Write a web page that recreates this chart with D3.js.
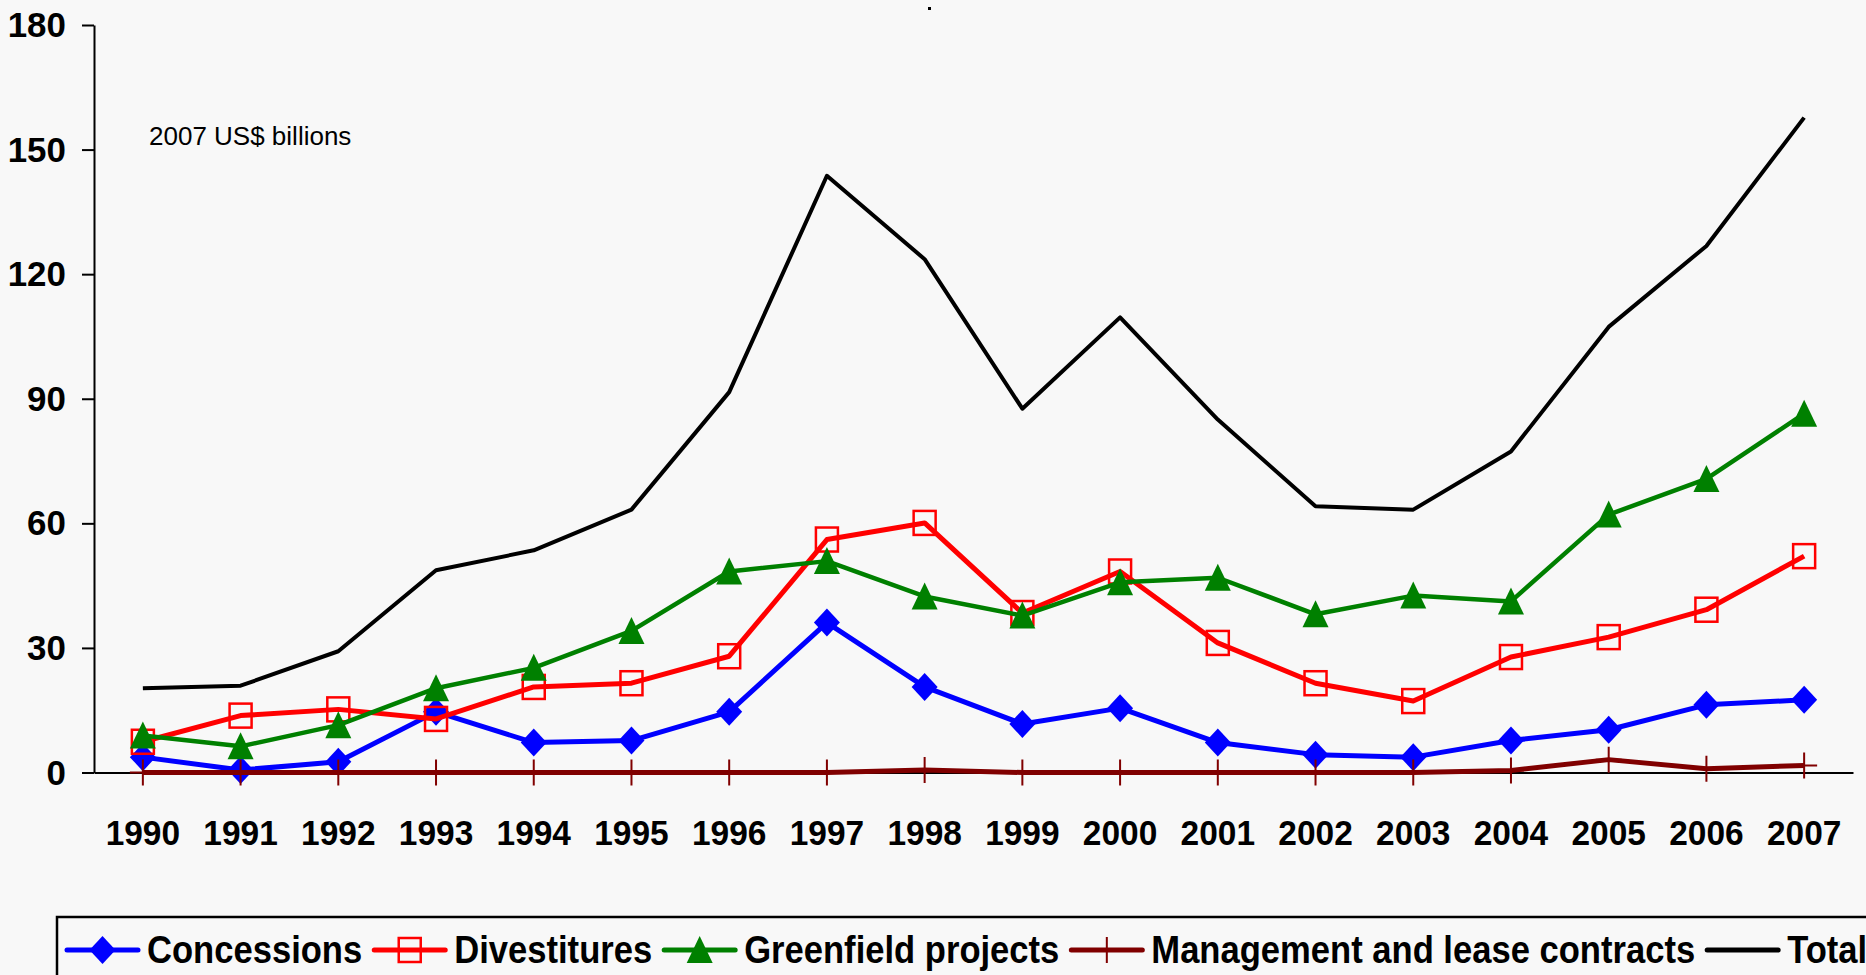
<!DOCTYPE html>
<html>
<head>
<meta charset="utf-8">
<script src="https://cdn.jsdelivr.net/npm/d3@7.9.0/dist/d3.min.js"></script>
<style>
  html, body { margin: 0; padding: 0; background: #f8f8f8; }
  svg { display: block; font-family: "Liberation Sans", Arial, sans-serif; }
</style>
</head>
<body>
<div id="chart"></div>
<script>
// ---- data (2007 US$ billions) ----
const years = ["1990","1991","1992","1993","1994","1995","1996","1997","1998","1999",
               "2000","2001","2002","2003","2004","2005","2006","2007"];
const concessions  = [3.7, 0.6, 2.6, 14.6, 7.2, 7.7, 14.6, 36.1, 20.6, 11.7, 15.5, 7.2, 4.3, 3.7, 7.7, 10.3, 16.3, 17.5];
const divestitures = [7.4, 13.7, 15.2, 12.9, 20.6, 21.5, 28.0, 56.1, 60.1, 38.4, 48.4, 31.2, 21.5, 17.2, 27.8, 32.6, 39.2, 52.1];
const greenfield   = [8.9, 6.3, 11.4, 20.3, 25.2, 34.1, 48.4, 50.9, 42.4, 37.8, 45.8, 46.9, 38.1, 42.6, 41.2, 62.1, 70.7, 86.4];
const management   = [0, 0, 0, 0, 0, 0, 0, 0, 0.6, 0, 0, 0, 0, 0, 0.5, 3.1, 0.9, 1.7];
const total        = [20.3, 20.9, 29.2, 48.7, 53.5, 63.3, 91.6, 143.7, 123.6, 87.6, 109.6, 85.0, 64.1, 63.3, 77.3, 107.3, 126.8, 157.7];
const yTicks = [0, 30, 60, 90, 120, 150, 180];

const series = [
  { name: "Concessions", values: concessions, color: "#0000ff", marker: "diamond", width: 5 },
  { name: "Divestitures", values: divestitures, color: "#ff0000", marker: "square", width: 5 },
  { name: "Greenfield projects", values: greenfield, color: "#008000", marker: "triangle", width: 4.5 },
  { name: "Management and lease contracts", values: management, color: "#800000", marker: "plus", width: 5 },
  { name: "Total", values: total, color: "#000000", marker: null, width: 4 }
];

const W = 1866, H = 975;
const plot = { left: 94, right: 1853, top: 25, bottom: 772.5 };

const svg = d3.select("#chart").append("svg").attr("width", W).attr("height", H);
svg.append("rect").attr("width", W).attr("height", H).attr("fill", "#f8f8f8");

const x = d3.scaleBand().domain(years).range([plot.left, plot.right]);
const y = d3.scaleLinear().domain([0, 180]).range([plot.bottom, plot.top]);
const cx = d => x(d) + x.bandwidth() / 2;

// stray dot at the top
svg.append("rect").attr("x", 928).attr("y", 7).attr("width", 3).attr("height", 3).attr("fill", "#000");

// y axis
const yAxis = svg.append("g").attr("transform", `translate(${plot.left},0)`)
  .call(d3.axisLeft(y).tickValues(yTicks).tickSize(12).tickSizeOuter(0).tickPadding(17).tickFormat(d3.format("d")));
yAxis.select(".domain").attr("stroke", "#000").attr("stroke-width", 2);
yAxis.selectAll(".tick line").attr("stroke", "#000").attr("stroke-width", 2);
yAxis.selectAll("text").attr("font-size", "36px").attr("font-weight", "bold").attr("fill", "#000")
  .attr("font-family", "'Liberation Sans', Arial, sans-serif")
  .attr("transform", "scale(0.97,1)");

// x axis
const xAxis = svg.append("g").attr("transform", `translate(0,${plot.bottom})`)
  .call(d3.axisBottom(x).tickSize(0).tickSizeOuter(0).tickPadding(47));
xAxis.select(".domain").attr("stroke", "#000").attr("stroke-width", 2);
xAxis.selectAll("text").attr("font-size", "36px").attr("font-weight", "bold").attr("fill", "#000")
  .attr("font-family", "'Liberation Sans', Arial, sans-serif")
  .attr("transform", "scale(0.93,1)");

// unit label
svg.append("text").attr("x", 149).attr("y", 145).attr("font-size", "26px").attr("fill", "#000")
  .text("2007 US$ billions");

// markers
function drawMarker(g, type, color) {
  if (type === "diamond") {
    g.append("path").attr("d", "M0,-14L13,0L0,14L-13,0Z").attr("fill", color);
  } else if (type === "square") {
    g.append("rect").attr("x", -11).attr("y", -12).attr("width", 22).attr("height", 24)
      .attr("fill", "none").attr("stroke", color).attr("stroke-width", 2.5);
  } else if (type === "triangle") {
    g.append("path").attr("d", "M0,-14L13,13L-13,13Z").attr("fill", color);
  } else if (type === "plus") {
    g.append("path").attr("d", "M-13,0H13M0,-13V13").attr("stroke", color).attr("stroke-width", 2).attr("fill", "none");
  }
}

const line = d3.line().x((d, i) => cx(years[i])).y(d => y(d));

series.forEach(s => {
  svg.append("path").datum(s.values).attr("d", line)
    .attr("fill", "none").attr("stroke", s.color)
    .attr("stroke-width", s.width).attr("stroke-linejoin", "round");
  if (s.marker) {
    s.values.forEach((v, i) => {
      const g = svg.append("g").attr("transform", `translate(${cx(years[i])},${y(v)})`);
      drawMarker(g, s.marker, s.color);
    });
  }
});

// legend
const legend = svg.append("g");
legend.append("rect").attr("x", 57).attr("y", 917).attr("width", 1900).attr("height", 200)
  .attr("fill", "none").attr("stroke", "#000").attr("stroke-width", 2.5);

let lx = 67;
const textScale = 0.91;
series.forEach(s => {
  legend.append("line").attr("x1", lx).attr("x2", lx + 71).attr("y1", 950).attr("y2", 950)
    .attr("stroke", s.color).attr("stroke-width", 5).attr("stroke-linecap", "round");
  if (s.marker) drawMarker(legend.append("g").attr("transform", `translate(${lx + 35.5},950)`), s.marker, s.color);
  const t = legend.append("text")
    .attr("transform", `translate(${lx + 80},963) scale(${textScale},1)`)
    .attr("font-size", "38px").attr("font-weight", "bold").attr("fill", "#000")
    .text(s.name);
  lx += 80 + t.node().getComputedTextLength() * textScale + 12;
});
</script>
</body>
</html>
